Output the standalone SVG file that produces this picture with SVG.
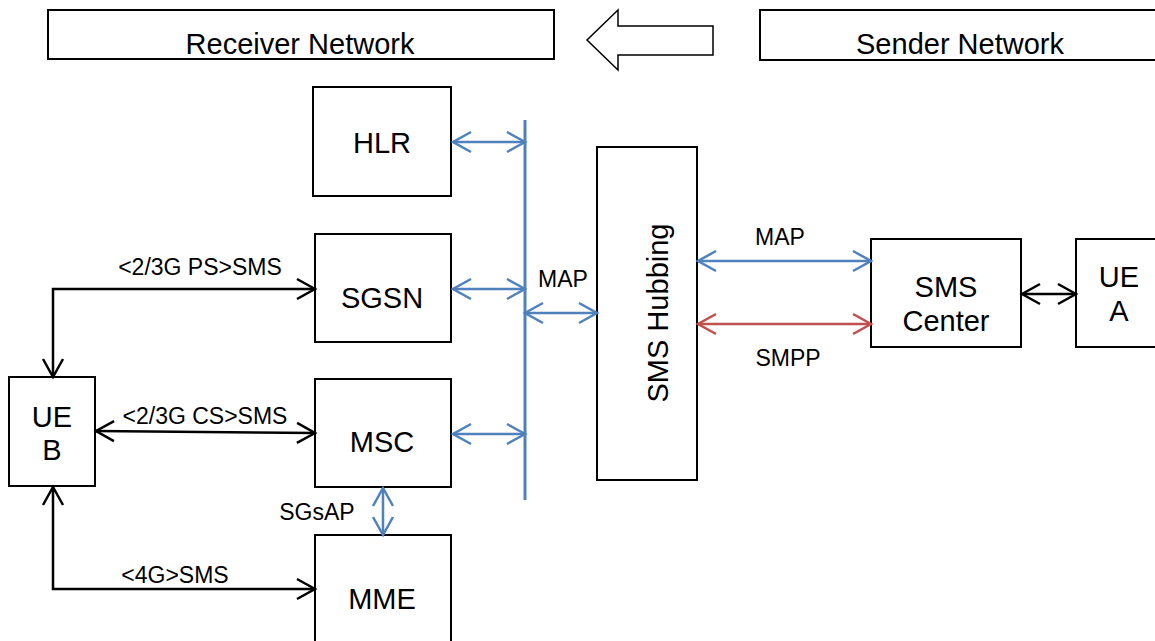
<svg xmlns="http://www.w3.org/2000/svg" width="1155" height="641" viewBox="0 0 1155 641">
<style>
.box{fill:#fff;stroke:#000;stroke-width:2}
.t{font-family:"Liberation Sans",Arial,sans-serif;font-size:29px;fill:#000;text-anchor:middle}
.l{font-family:"Liberation Sans",Arial,sans-serif;font-size:23px;fill:#000;text-anchor:middle}
.blk{fill:none;stroke:#000;stroke-width:2.5}
.blu{fill:none;stroke:#4F81BD;stroke-width:2.5}
.red{fill:none;stroke:#C0504D;stroke-width:2.5}
</style>
<defs>
<marker id="ak" viewBox="0 0 18 20" refX="18" refY="10" markerWidth="18" markerHeight="20" markerUnits="userSpaceOnUse" orient="auto-start-reverse" overflow="visible"><path d="M0,0 L18,10 L0,20" fill="none" stroke="#000" stroke-width="2.5"/></marker>
<marker id="ab" viewBox="0 0 18 20" refX="18" refY="10" markerWidth="18" markerHeight="20" markerUnits="userSpaceOnUse" orient="auto-start-reverse" overflow="visible"><path d="M0,0 L18,10 L0,20" fill="none" stroke="#4F81BD" stroke-width="2.5"/></marker>
<marker id="ar" viewBox="0 0 18 20" refX="18" refY="10" markerWidth="18" markerHeight="20" markerUnits="userSpaceOnUse" orient="auto-start-reverse" overflow="visible"><path d="M0,0 L18,10 L0,20" fill="none" stroke="#C0504D" stroke-width="2.5"/></marker>
</defs>
<rect width="1155" height="641" fill="#fff"/>
<g id="receiver-network"><rect class="box" x="48" y="10" width="506" height="49"/><text class="t" x="300" y="54">Receiver Network</text></g>
<g id="direction-arrow"><polygon points="713,26 618,26 618,10 587,40 618,70 618,55 713,55" fill="#fff" stroke="#000" stroke-width="1.5"/></g>
<g id="sender-network"><rect class="box" x="760" y="10" width="410" height="50"/><text class="t" x="960" y="54">Sender Network</text></g>
<g id="hlr"><rect class="box" x="313" y="87" width="138" height="109"/><text class="t" x="382" y="153">HLR</text></g>
<g id="sgsn"><rect class="box" x="315" y="234" width="136" height="108"/><text class="t" x="382" y="308">SGSN</text></g>
<g id="msc"><rect class="box" x="315" y="379" width="136" height="108"/><text class="t" x="382" y="452">MSC</text></g>
<g id="mme"><rect class="box" x="315" y="535" width="136" height="120"/><text class="t" x="382" y="609">MME</text></g>
<g id="ue-b"><rect class="box" x="9" y="377" width="86" height="109"/><text class="t" x="52" y="427">UE</text><text class="t" x="52" y="460">B</text></g>
<g id="sms-hubbing"><rect class="box" x="597" y="147" width="100" height="333"/><text class="t" x="668" y="313" transform="rotate(-90 668 313)">SMS Hubbing</text></g>
<g id="sms-center"><rect class="box" x="871" y="239" width="150" height="108"/><text class="t" x="946" y="297">SMS</text><text class="t" x="946" y="331">Center</text></g>
<g id="ue-a"><rect class="box" x="1076" y="239" width="90" height="108"/><text class="t" x="1119" y="287">UE</text><text class="t" x="1119" y="321">A</text></g>
<g id="connectors">
<line class="blu" x1="525" y1="120" x2="525" y2="500" style="stroke-width:3"/>
<line class="blu" x1="453" y1="142" x2="525" y2="142" marker-start="url(#ab)" marker-end="url(#ab)"/>
<line class="blu" x1="453" y1="289" x2="525" y2="289" marker-start="url(#ab)" marker-end="url(#ab)"/>
<line class="blu" x1="453" y1="434" x2="525" y2="434" marker-start="url(#ab)" marker-end="url(#ab)"/>
<line class="blu" x1="525" y1="313" x2="597" y2="313" marker-start="url(#ab)" marker-end="url(#ab)"/>
<text class="l" x="563" y="287">MAP</text>
<line class="blu" x1="698" y1="261" x2="871" y2="261" marker-start="url(#ab)" marker-end="url(#ab)"/>
<text class="l" x="780" y="245">MAP</text>
<line class="red" x1="698" y1="324" x2="871" y2="324" marker-start="url(#ar)" marker-end="url(#ar)"/>
<text class="l" x="788" y="366">SMPP</text>
<line class="blk" x1="1022" y1="294" x2="1076" y2="294" marker-start="url(#ak)" marker-end="url(#ak)"/>
<polyline class="blk" points="53,377 53,289 315,289" marker-start="url(#ak)" marker-end="url(#ak)"/>
<text class="l" x="200" y="275">&lt;2/3G PS&gt;SMS</text>
<line class="blk" x1="96" y1="431" x2="315" y2="433" marker-start="url(#ak)" marker-end="url(#ak)"/>
<text class="l" x="205" y="424">&lt;2/3G CS&gt;SMS</text>
<polyline class="blk" points="53,487 53,589 315,589" marker-start="url(#ak)" marker-end="url(#ak)"/>
<text class="l" x="175" y="583">&lt;4G&gt;SMS</text>
<line class="blu" x1="383" y1="488" x2="383" y2="535" marker-start="url(#ab)" marker-end="url(#ab)"/>
<text class="l" x="317" y="520">SGsAP</text>
</g>
</svg>
